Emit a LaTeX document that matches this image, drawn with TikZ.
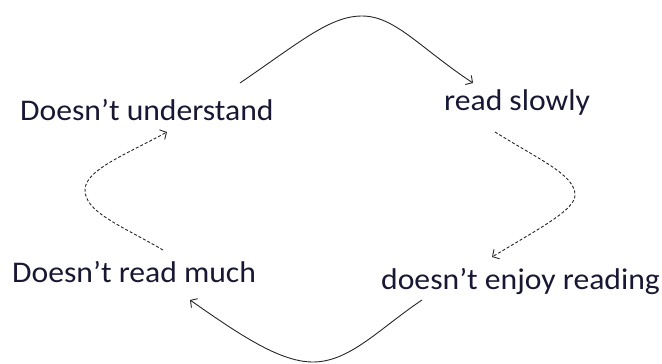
\documentclass[tikz,border=0pt]{standalone}
\usepackage{fontspec}
\setmainfont{Carlito}[FakeStretch=1.055]
\usetikzlibrary{arrows.meta}
\definecolor{txt}{RGB}{24,24,52}
\begin{document}
\begin{tikzpicture}[x=1pt,y=1pt,
  lbl/.style={anchor=base west,inner sep=0pt,font=\fontsize{30}{36}\selectfont,text=txt},
  conn/.style={line width=0.9pt,draw=black!85,-{Straight Barb[length=5pt,width=11pt]}},
  dconn/.style={conn,dash pattern=on 3pt off 2pt}]
\useasboundingbox (0,0) rectangle (662,-364);
\node[lbl] (und) at (20,-120) {Doesn’t understand};
\node[lbl] (slow) at (444,-110) {read slowly};
\node[lbl] (much) at (12,-282) {Doesn’t read much};
\node[lbl] (enjoy) at (381,-289) {doesn’t enjoy reading};
\coordinate (a1) at (240,-83);
\coordinate (a2) at (473,-83);
\coordinate (b1) at (495,-132);
\coordinate (b2) at (492,-257);
\coordinate (c1) at (422,-300);
\coordinate (c2) at (190,-300);
\coordinate (d1) at (163,-250);
\coordinate (d2) at (167,-132);
\draw[conn] (a1) .. controls (300,-42) and (330,-16) .. (362,-16) .. controls (395,-16) and (420,-48) .. (a2);
\draw[dconn] (b1) .. controls (540,-160) and (575,-175) .. (575,-195) .. controls (575,-210) and (540,-228) .. (b2);
\draw[conn] (c1) .. controls (380,-328) and (350,-362) .. (313,-362) .. controls (280,-362) and (240,-335) .. (c2);
\draw[dconn] (d1) .. controls (120,-225) and (85,-212) .. (85,-190) .. controls (85,-170) and (125,-155) .. (d2);
\end{tikzpicture}
\end{document}
